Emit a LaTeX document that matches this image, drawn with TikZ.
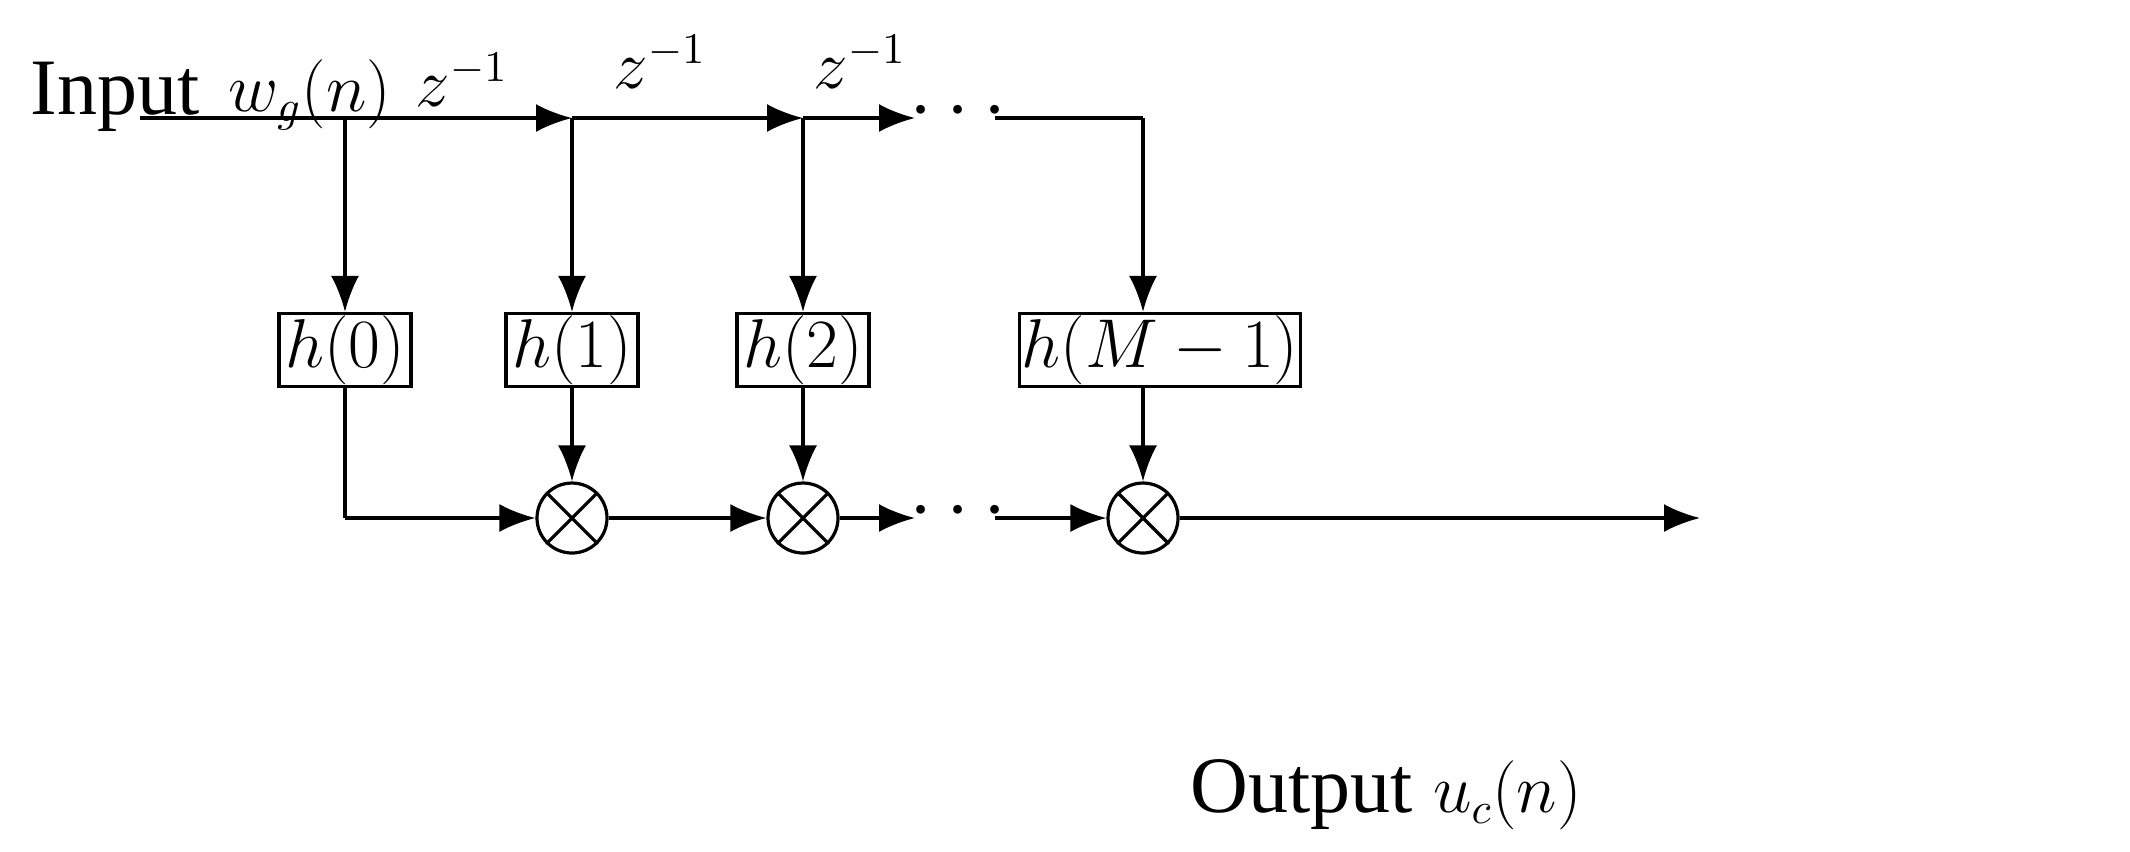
\documentclass[tikz,border=0pt]{standalone}
\usepackage{fontspec}
\setmainfont{Liberation Serif}
\usetikzlibrary{arrows.meta}
\begin{document}
\begin{tikzpicture}[x=0.25pt,y=-0.25pt,
 ln/.style={line width=0.8pt},
 ar/.style={ln,-{Latex[length=9pt,width=7pt]}},
 box/.style={draw,line width=0.8pt,minimum width=33pt,minimum height=16pt,inner sep=0.5pt,font=\fontsize{17}{20}\selectfont},
 mul/.style={draw,circle,line width=0.8pt,minimum size=17.5pt,inner sep=0pt},
 lab/.style={font=\fontsize{20}{24}\selectfont,inner sep=0pt},
 mlab/.style={font=\fontsize{16}{20}\selectfont,inner sep=0pt},
 dots/.style={font=\fontsize{22}{24}\selectfont\bfseries,inner sep=0pt}]
\useasboundingbox (0,0) rectangle (2130,851);
\node[lab] (in) at (115,97) {Input};
\node[mlab] (wg) at (310,95) {$w_g(n)$};
\node[mlab] (z1) at (462,80) {$z^{-1}$};
\node[mlab] (z2) at (660,62) {$z^{-1}$};
\node[mlab] (z3) at (860,62) {$z^{-1}$};
\node[lab,anchor=west] (out) at (1190,795) {Output \fontsize{16}{20}\selectfont$u_c(n)$};
\coordinate (s) at (140,118);
\coordinate (t0) at (345,118);
\coordinate (t1) at (572,118);
\coordinate (t2) at (803,118);
\coordinate (t3) at (915,118);
\node[dots] (d1) at (958,112) {$\cdots$};
\coordinate (t4) at (995,118);
\coordinate (t5) at (1143,118);
\node[box] (h0) at (345,350) {$h(0)$};
\node[box] (h1) at (572,350) {$h(1)$};
\node[box] (h2) at (803,350) {$h(2)$};
\node[box,minimum width=68pt] (h3) at (1160,350) {$h(M-1)$};
\node[mul] (m1) at (572,518) {};
\node[mul] (m2) at (803,518) {};
\node[mul] (m3) at (1143,518) {};
\foreach \m in {m1,m2,m3}{
 \draw[ln] (\m.north west)--(\m.south east) (\m.north east)--(\m.south west);}
\coordinate (c0) at (345,518);
\coordinate (e2) at (915,518);
\node[dots] (d2) at (958,512) {$\cdots$};
\coordinate (e3) at (995,518);
\coordinate (o) at (1700,518);
\draw[ar] (s)--(t1);
\draw[ar] (t1)--(t2);
\draw[ar] (t2)--(t3);
\draw[ln] (t4)--(t5);
\draw[ar] (t5)--(t5|-h3.north);
\draw[ar] (t0)--(h0);
\draw[ar] (t1)--(h1);
\draw[ar] (t2)--(h2);
\draw[ln] (h0)--(c0);
\draw[ar] (c0)--(m1);
\draw[ar] (h1)--(m1);
\draw[ar] (h2)--(m2);
\draw[ar] (h3.south-|m3)--(m3);
\draw[ar] (m1)--(m2);
\draw[ar] (m2)--(e2);
\draw[ar] (e3)--(m3);
\draw[ar] (m3)--(o);
\end{tikzpicture}
\end{document}
